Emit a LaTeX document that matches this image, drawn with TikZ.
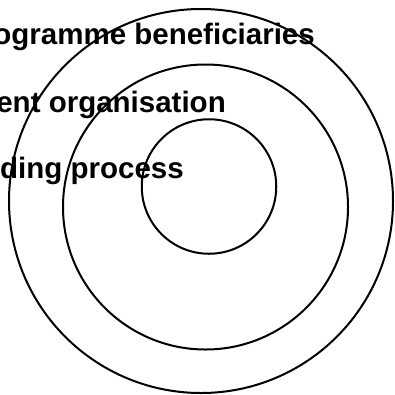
\documentclass[tikz,border=0pt]{standalone}
\usepackage{fontspec}
\setmainfont{Liberation Sans}
\begin{document}
\begin{tikzpicture}[x=1pt,y=-1pt,
  ring/.style={draw=black, line width=2pt, circle, inner sep=0pt, fill=none},
  lbl/.style={anchor=base east, inner sep=0pt, font=\fontsize{29.5}{35}\selectfont\bfseries}]
\useasboundingbox (0,0) rectangle (395,394);
\clip (0,0) rectangle (395,394);
\node[ring, minimum size=384pt] (outer) at (201,201) {};
\node[ring, minimum size=285pt] (middle) at (205.5,207) {};
\node[ring, minimum size=134.5pt] (inner) at (209,186.5) {};
\node[lbl] (t1) at (315,44) {ogramme beneficiaries};
\node[lbl] (t2) at (226,112) {ent organisation};
\node[lbl] (t3) at (184,178) {lding process};
\end{tikzpicture}
\end{document}
